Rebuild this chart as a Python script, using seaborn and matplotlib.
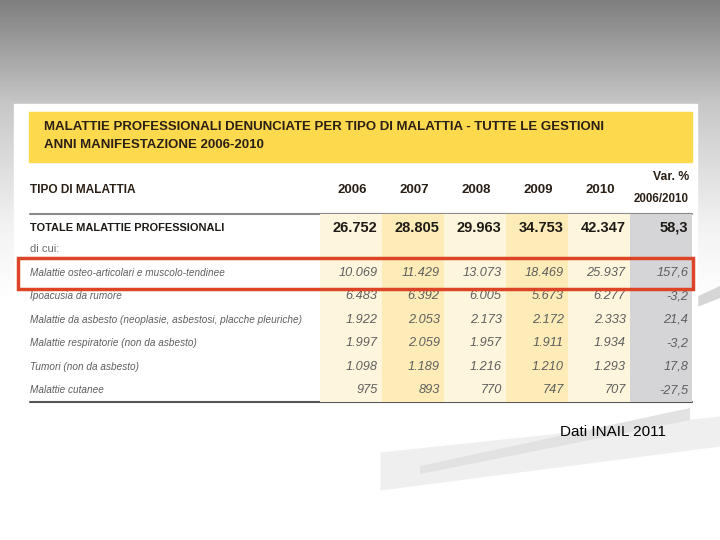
import numpy as np
import matplotlib
matplotlib.use("Agg")
import matplotlib.pyplot as plt
from matplotlib.colors import ListedColormap, LinearSegmentedColormap
from matplotlib.patches import Rectangle, Polygon
import seaborn as sns

sns.set_theme(style="white")
plt.rcParams['font.family'] = ['Liberation Sans', 'DejaVu Sans']

# ---------------- data ----------------
title_lines = ["MALATTIE PROFESSIONALI DENUNCIATE PER TIPO DI MALATTIA - TUTTE LE GESTIONI",
               "ANNI MANIFESTAZIONE 2006-2010"]
col_header = "TIPO DI MALATTIA"
years = ["2006", "2007", "2008", "2009", "2010"]
var_header = ["Var. %", "2006/2010"]
categories = ["TOTALE MALATTIE PROFESSIONALI",
              "Malattie osteo-articolari e muscolo-tendinee",
              "Ipoacusia da rumore",
              "Malattie da asbesto (neoplasie, asbestosi, placche pleuriche)",
              "Malattie respiratorie (non da asbesto)",
              "Tumori (non da asbesto)",
              "Malattie cutanee"]
v2006 = [26752, 10069, 6483, 1922, 1997, 1098, 975]
v2007 = [28805, 11429, 6392, 2053, 2059, 1189, 893]
v2008 = [29963, 13073, 6005, 2173, 1957, 1216, 770]
v2009 = [34753, 18469, 5673, 2172, 1911, 1210, 747]
v2010 = [42347, 25937, 6277, 2333, 1934, 1293, 707]
var_pct = [58.3, 157.6, -3.2, 21.4, -3.2, 17.8, -27.5]
subheader = "di cui:"
source = "Dati INAIL 2011"

values = [v2006, v2007, v2008, v2009, v2010]

def fmt_int(v):
    return f"{v:,}".replace(",", ".")

def fmt_pct(v):
    return f"{v:.1f}".replace(".", ",")

W, H = 720, 540
fig = plt.figure(figsize=(7.2, 5.4), dpi=100)

DARK = "#2b2016"
GREY = "#5e5e5e"

# background gradient (slide)
bg = fig.add_axes([0, 0, 1, 1])
bg.set_xlim(0, W); bg.set_ylim(H, 0); bg.axis("off")
grad = np.linspace(0, 1, 300).reshape(-1, 1)
gcmap = LinearSegmentedColormap.from_list("g", [(0, "#7f7f7f"), (0.35, "#c8c8c8"), (0.75, "#f2f2f2"), (1, "#ffffff")])
bg.imshow(grad, cmap=gcmap, extent=[0, W, 300, 0], aspect="auto", zorder=0)
bg.add_patch(Rectangle((0, 300), W, 240, color="white", zorder=0))

# decorative faint swooshes
xs = np.linspace(380, 720, 120)
t = (xs - 380) / 340
bg.fill_between(xs, 452 - 36 * t, 490 - 44 * t, color="#efefef", zorder=0.4, lw=0)
bg.add_patch(Polygon([(420, 466), (690, 408), (690, 420), (420, 474)], closed=True,
                     color="#e2e2e2", lw=0, zorder=0.5))
bg.add_patch(Polygon([(690, 300), (720, 286), (720, 298), (690, 310)], closed=True,
                     color="#d6d6d6", lw=0, zorder=0.5))

# white panel
bg.add_patch(Rectangle((14, 104), 683, 300, color="white", zorder=1))
# yellow title band
bg.add_patch(Rectangle((29, 112), 663, 50, color="#fdd94d", zorder=2))
for i, tl in enumerate(title_lines):
    bg.text(44, 127 + i * 18, tl, fontsize=9.5, fontweight="bold", color=DARK,
            va="center", ha="left", zorder=3)

# header row
bg.text(30, 190, col_header, fontsize=8.6, fontweight="bold", color=DARK, va="center", zorder=3)

# shaded columns via seaborn heatmap
x0, x1, y0, y1 = 320, 692, 214, 402
hax = fig.add_axes([x0 / W, 1 - y1 / H, (x1 - x0) / W, (y1 - y0) / H])
nrows = len(categories) + 1
shade = np.tile(np.array([0, 1, 0, 1, 0, 2]), (nrows, 1))
cmap = ListedColormap(["#fef6dc", "#fdecb8", "#d5d5d8"])
sns.heatmap(shade, ax=hax, cmap=cmap, cbar=False, vmin=0, vmax=2,
            xticklabels=False, yticklabels=False, linewidths=0)
hax.set_xlim(0, 6); hax.set_ylim(nrows, 0)
hax.axis("off")

# column headers
cw = (x1 - x0) / 6
for j, y in enumerate(years):
    bg.text(x0 + (j + 1) * cw - 15, 190, y, fontsize=9.5, fontweight="bold", color=DARK,
            ha="right", va="center", zorder=3)
bg.text(x1 - 3, 177, var_header[0], fontsize=8.8, fontweight="bold", color=DARK, ha="right", va="center", zorder=3)
bg.text(x1 - 3, 199, var_header[1], fontsize=8.3, fontweight="bold", color=DARK, ha="right", va="center", zorder=3)

# lines
bg.plot([30, 692], [214, 214], color="#8a8a8a", lw=1.5, zorder=4)
bg.plot([30, 692], [402, 402], color="#555555", lw=1.5, zorder=4)

# row layout: row 0 = total, row 1 = "di cui:", rows 2.. = categories[1:]
row_idx = [0] + list(range(2, nrows))
rh = (y1 - y0) / nrows
for k, (cat, r) in enumerate(zip(categories, row_idx)):
    off = 0.58 if k == 0 else 0.5
    yc = y0 + (r + off) * rh
    bold = (k == 0)
    style = "normal" if bold else "italic"
    color = "#1e1a16" if bold else GREY
    wt = "bold" if bold else "normal"
    bg.text(30, yc, cat, fontsize=7.9 if bold else 7.2, fontweight=wt,
            style=style, color=color, va="center", ha="left", zorder=3)
    nfs = 10.5 if bold else 9.2
    for j in range(5):
        hax.text(j + 0.93, r + off, fmt_int(values[j][k]), fontsize=nfs,
                 fontweight=wt, style=style, color=color, ha="right", va="center")
    hax.text(5.94, r + off, fmt_pct(var_pct[k]), fontsize=nfs,
             fontweight=wt, style=style, color=color, ha="right", va="center")
bg.text(30, y0 + 1.5 * rh, subheader, fontsize=8.0, color="#6a6a6a", va="center", ha="left", zorder=3)

# red highlight box
box_ax = fig.add_axes([0, 0, 1, 1], facecolor="none")
box_ax.set_xlim(0, W); box_ax.set_ylim(H, 0); box_ax.axis("off")
box_ax.add_patch(Rectangle((18, 258), 675, 31, fill=False, edgecolor="#dc4526", lw=2.5))

box_ax.text(560, 432, source, fontsize=11, color="black", va="center", ha="left",
            family=["Liberation Sans", "DejaVu Sans"])

fig.savefig("out.png", dpi=100)
